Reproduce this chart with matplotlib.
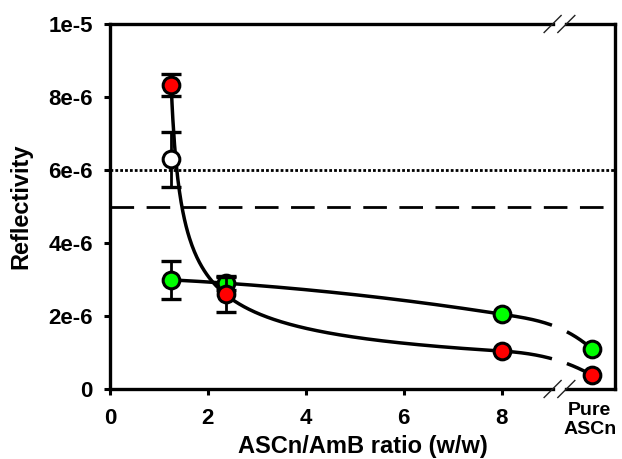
import numpy as np
import matplotlib
matplotlib.use("Agg")
import matplotlib.pyplot as plt

plt.rcParams['font.family'] = ['Liberation Sans', 'DejaVu Sans']
plt.rcParams['font.weight'] = 'bold'

# ---------------- data ----------------
ratio_x = [1.25, 2.36, 8.0]          # ASCn/AmB ratio (w/w)
pure_x = 9.84                         # display position of "Pure ASCn"
red_y = [8.33e-6, 2.59e-6, 1.04e-6, 0.38e-6]
red_err = [0.30e-6, 0.48e-6, 0.0, 0.0]
green_y = [2.99e-6, 2.90e-6, 2.05e-6, 1.10e-6]
green_err = [0.52e-6, 0.20e-6, 0.0, 0.0]
white_x = [1.25]
white_y = [6.29e-6]
white_err = [0.75e-6]
dotted_level = 6e-6
dashed_level = 5e-6

x_ticks = [0, 2, 4, 6, 8]
x_ticklabels = ['0', '2', '4', '6', '8']
pure_label = 'Pure\nASCn'
y_ticks = [0, 2e-6, 4e-6, 6e-6, 8e-6, 1e-5]
y_ticklabels = ['0', '2e-6', '4e-6', '6e-6', '8e-6', '1e-5']
xlabel = 'ASCn/AmB ratio (w/w)'
ylabel = 'Reflectivity'

# break of the x axis (between 8 and pure)
brk_lo, brk_hi = 9.04, 9.32

# ---------------- fits ----------------
S = 1e-6
xr = np.array(ratio_x)
ry = np.array(red_y[:3]) / S
gy = np.array(green_y[:3]) / S


def ratio_fn(c):
    f = 1.0 / np.sqrt(xr - c)
    return (f[0] - f[1]) / (f[1] - f[2]) - (ry[0] - ry[1]) / (ry[1] - ry[2])


lo, hi = 0.0, xr[0] - 1e-6
for _ in range(200):
    mid = 0.5 * (lo + hi)
    if ratio_fn(mid) > 0:
        hi = mid
    else:
        lo = mid
c_r = 0.5 * (lo + hi)
f = 1.0 / np.sqrt(xr - c_r)
b_r = (ry[0] - ry[1]) / (f[0] - f[1])
a_r = ry[0] - b_r * f[0]


def red_fit(x):
    return a_r + b_r / np.sqrt(x - c_r)


red_slope8 = -0.5 * b_r * (xr[2] - c_r) ** -1.5

g_coef = np.polyfit(xr, gy, 2)
green_slope8 = np.polyval(np.polyder(g_coef), xr[2])


def hermite(x, x0, y0, m0, x1, y1, m1):
    h = x1 - x0
    t = (x - x0) / h
    return ((2 * t**3 - 3 * t**2 + 1) * y0 + (t**3 - 2 * t**2 + t) * h * m0
            + (-2 * t**3 + 3 * t**2) * y1 + (t**3 - t**2) * h * m1)


xa = np.linspace(xr[0], xr[2], 400)
xt = np.linspace(xr[2], pure_x, 200)
mask = (xt > brk_lo - 0.01) & (xt < brk_hi + 0.01)

red_curve = np.concatenate([red_fit(xa),
                            hermite(xt, xr[2], red_y[2] / S, red_slope8, pure_x, red_y[3] / S, -0.76)])
green_curve = np.concatenate([np.polyval(g_coef, xa),
                              hermite(xt, xr[2], green_y[2] / S, green_slope8, pure_x, green_y[3] / S, -1.17)])
curve_x = np.concatenate([xa, xt])
gap = np.concatenate([np.zeros_like(xa, dtype=bool), mask])
red_curve = np.where(gap, np.nan, red_curve) * S
green_curve = np.where(gap, np.nan, green_curve) * S

# ---------------- figure ----------------
fig = plt.figure(figsize=(6.22, 4.59), dpi=100)
ax = fig.add_axes([110 / 622, 1 - 389 / 459, 505 / 622, 365 / 459])
ax.set_xlim(0, 10.314)
ax.set_ylim(0, 1e-5)

lw_sp = 2.4
ax.axhline(dotted_level, color='black', lw=2.0, dashes=(1.0, 0.75), zorder=1)
ax.axhline(dashed_level, color='black', lw=2.0, dashes=(8.5, 4.5), zorder=1)

ax.plot(curve_x, red_curve, color='black', lw=2.5, zorder=2, solid_capstyle='butt')
ax.plot(curve_x, green_curve, color='black', lw=2.5, zorder=2, solid_capstyle='butt')

all_x = ratio_x + [pure_x]
gx = [x for x, e in zip(all_x, green_err) if e > 0]
gyv = [y for y, e in zip(green_y, green_err) if e > 0]
ge = [e for e in green_err if e > 0]
ax.errorbar(gx, gyv, yerr=ge, fmt='none', ecolor='black', elinewidth=2.0,
            capsize=7, capthick=2.4, zorder=2.5)
ax.plot(all_x, green_y, 'o', ms=12, mfc='#00ff00', mec='black', mew=2.2,
        ls='none', zorder=3)

rx = [x for x, e in zip(all_x, red_err) if e > 0]
ryv = [y for y, e in zip(red_y, red_err) if e > 0]
re_ = [e for e in red_err if e > 0]
ax.errorbar(rx, ryv, yerr=re_, fmt='none', ecolor='black', elinewidth=2.0,
            capsize=7, capthick=2.4, zorder=3.5)
ax.errorbar(white_x, white_y, yerr=white_err, fmt='none', ecolor='black',
            elinewidth=2.0, capsize=7, capthick=2.4, zorder=3.5)
ax.plot(all_x, red_y, 'o', ms=12, mfc='#ff0000', mec='black', mew=2.2,
        ls='none', zorder=4)
ax.plot(white_x, white_y, 'o', ms=12, mfc='white', mec='black', mew=2.2,
        ls='none', zorder=4)

# spines with break
for s in ['top', 'bottom']:
    ax.spines[s].set_visible(False)
for s in ['left', 'right']:
    ax.spines[s].set_linewidth(lw_sp)
tr = ax.get_xaxis_transform()
xmax = ax.get_xlim()[1]
for yy in (0, 1):
    ax.plot([0, brk_lo], [yy, yy], transform=tr, color='black', lw=lw_sp,
            clip_on=False, solid_capstyle='projecting', zorder=5)
    ax.plot([brk_hi, xmax], [yy, yy], transform=tr, color='black', lw=lw_sp,
            clip_on=False, solid_capstyle='projecting', zorder=5)
    dx = 8.5 / 48.96
    dy = 8.5 / 365
    for xb in (brk_lo, brk_hi):
        ax.plot([xb - dx, xb + dx], [yy - dy, yy + dy], transform=tr,
                color='#222222', lw=1.0, clip_on=False, zorder=5)

ax.set_xticks(x_ticks)
ax.set_xticklabels(x_ticklabels)
ax.set_yticks(y_ticks)
ax.set_yticklabels(y_ticklabels)
ax.tick_params(axis='both', direction='out', length=4.5, width=2.2,
               labelsize=16, top=False, right=False)
ax.tick_params(axis='x', pad=9.5)
ax.tick_params(axis='y', pad=8)
for lab in ax.get_xticklabels() + ax.get_yticklabels():
    lab.set_fontweight('bold')

ax.text(9.8, -0.035, pure_label, transform=tr, ha='center', va='top',
        fontsize=14, fontweight='bold', linespacing=1.15)

ax.set_xlabel(xlabel, fontsize=17, fontweight='bold', labelpad=4)
ax.set_ylabel(ylabel, fontsize=17, fontweight='bold', labelpad=11)

fig.savefig('out.png', dpi=100)
